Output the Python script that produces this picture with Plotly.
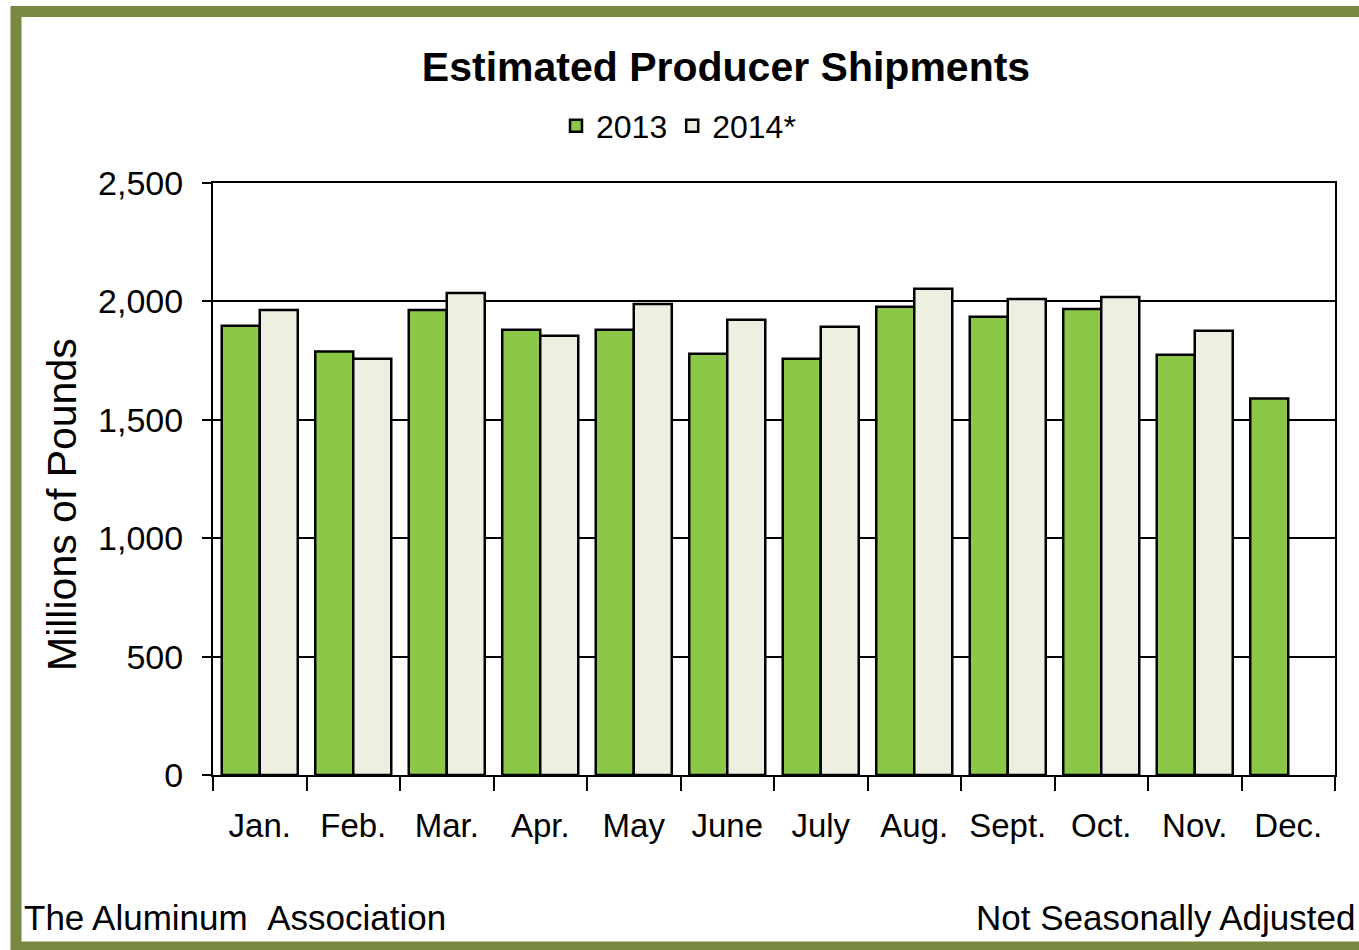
import plotly.graph_objects as go

months = ["Jan.", "Feb.", "Mar.", "Apr.", "May", "June", "July", "Aug.", "Sept.", "Oct.", "Nov.", "Dec."]
shipments_2013 = [1897, 1788, 1964, 1880, 1880, 1779, 1758, 1977, 1935, 1968, 1775, 1590]
shipments_2014 = [1964, 1758, 2036, 1855, 1989, 1922, 1893, 2053, 2010, 2019, 1876, None]
y_ticks = [0, 500, 1000, 1500, 2000, 2500]
y_tick_labels = ["0", "500", "1,000", "1,500", "2,000", "2,500"]

W, H = 1359, 950
L, R, T, B = 213, 24, 183, 175
PW, PH = W - L - R, H - T - B

def px(x):
    return (x - L) / PW

def py(y):
    return (H - B - y) / PH

FONT = "Liberation Sans, Arial, sans-serif"

fig = go.Figure()
fig.add_trace(go.Bar(x=months, y=shipments_2013, name="2013",
                     marker=dict(color="#8cc848", line=dict(color="#000000", width=2.5))))
fig.add_trace(go.Bar(x=months, y=shipments_2014, name="2014*",
                     marker=dict(color="#edf0e0", line=dict(color="#000000", width=2.5))))

fig.update_layout(
    width=W, height=H,
    margin=dict(l=L, r=R, t=T, b=B, autoexpand=False),
    paper_bgcolor="white", plot_bgcolor="white",
    barmode="group", bargap=0.187, bargroupgap=0,
    font=dict(family=FONT, color="black"),
    title=dict(text="<b>Estimated Producer Shipments</b>", x=px(726), xref="paper", xanchor="center",
               y=1 - 67 / H, yanchor="middle", font=dict(size=41, family=FONT, color="black")),
    showlegend=True,
    legend=dict(orientation="h", x=px(556), xanchor="left", y=py(126), yanchor="middle",
                font=dict(size=32, family=FONT), bgcolor="rgba(0,0,0,0)",
                itemwidth=30, tracegroupgap=0, traceorder="normal"),
    xaxis=dict(type="category", showline=True, linecolor="black", linewidth=2, mirror=True,
               ticks="outside", tickson="boundaries", ticklen=14, tickcolor="black", tickwidth=1.5,
               ticklabelstandoff=20,
               tickfont=dict(size=33, family=FONT), showgrid=False),
    yaxis=dict(range=[0, 2500], tickvals=y_ticks, ticktext=y_tick_labels,
               showline=True, linecolor="black", linewidth=2, mirror=True,
               ticks="outside", ticklen=9, tickcolor="black", tickwidth=1.5,
               ticklabelstandoff=12,
               tickfont=dict(size=34, family=FONT),
               showgrid=True, gridcolor="black", gridwidth=1.5, zeroline=False),
)

fig.add_annotation(text="Millions of Pounds", xref="paper", yref="paper",
                   x=px(62), y=py(505), xanchor="center", yanchor="middle", textangle=-90,
                   showarrow=False, font=dict(size=41, family=FONT, color="black"))
fig.add_annotation(text="The Aluminum&nbsp;&nbsp;Association", xref="paper", yref="paper",
                   x=px(22), y=py(918), xanchor="left", yanchor="middle", showarrow=False,
                   font=dict(size=35, family=FONT, color="black"))
fig.add_annotation(text="Not Seasonally Adjusted", xref="paper", yref="paper",
                   x=px(1357), y=py(918), xanchor="right", yanchor="middle", showarrow=False,
                   font=dict(size=35, family=FONT, color="black"))

fig.add_shape(type="rect", xref="paper", yref="paper",
              x0=px(16), x1=px(1375), y0=py(11.5), y1=py(947),
              line=dict(color="#76893e", width=11), fillcolor="rgba(0,0,0,0)", layer="above")

fig.write_html("out.html", config={"displayModeBar": False},
               post_script="document.body.style.margin='0';")
